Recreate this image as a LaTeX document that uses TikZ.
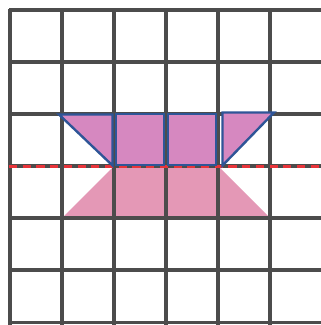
\documentclass[tikz,border=0pt]{standalone}
\begin{document}
\begin{tikzpicture}[x=0.019231cm,y=-0.019231cm,
  gridline/.style={line width=1.8pt,draw=black!70},
  piece/.style={fill=upperfill,draw=outlineblue,line width=1.3pt,line join=miter},
  mirror/.style={fill=lowerfill,draw=none},
  axisline/.style={draw=axisred,line width=1.9pt,dash pattern=on 4.5pt off 3pt}]
\definecolor{upperfill}{HTML}{D688C0}
\definecolor{lowerfill}{HTML}{E498B6}
\definecolor{outlineblue}{HTML}{2E5597}
\definecolor{axisred}{HTML}{E8343A}
\useasboundingbox (0,0) rectangle (321,325);
\clip (0,0) rectangle (321,325);
\fill[white] (0,0) rectangle (321,325);
% reflected image
\path[mirror] (114,166) -- (218,166) -- (270,218) -- (62,218) -- cycle;
% grid
\foreach \g in {10,62,114,166,218,270}{
  \draw[gridline] (\g,9) -- (\g,340);
}
\foreach \g in {10,62,114,166,218,270,322.5}{
  \draw[gridline] (9,\g) -- (340,\g);
}
% mirror axis
\draw[axisline] (9,166.5) -- (330,166.5);
% pieces
\draw[piece] (59,114.5) -- (112.5,114.5) -- (112.5,165.5) -- cycle;
\draw[piece] (116,114) rectangle (164,165);
\draw[piece] (168,114) rectangle (216,165);
\draw[piece] (222.5,112.5) -- (274,112.5) -- (222.5,165.5) -- cycle;
\end{tikzpicture}
\end{document}
